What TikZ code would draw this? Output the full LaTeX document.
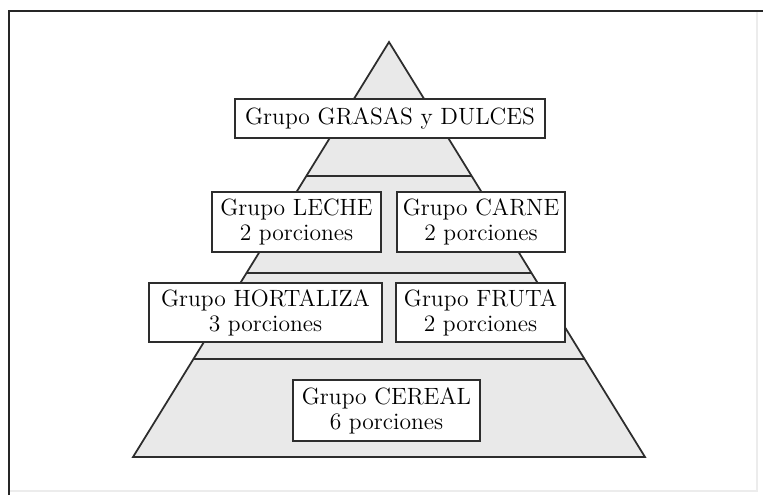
\documentclass[tikz,border=0pt]{standalone}
\usetikzlibrary{calc}

\definecolor{pyrgray}{RGB}{233,233,233}
\definecolor{edgegray}{RGB}{45,45,45}
\definecolor{faintgray}{RGB}{236,236,236}

\tikzset{
	grupo/.style={rectangle, draw=edgegray, fill=white, line width=1pt, align=center, inner sep=0pt, font=\fontsize{13.4}{14.2}\selectfont},
	band/.style={draw=edgegray, line width=1pt},
}

\begin{document}
\begin{tikzpicture}[x=0.02cm, y=-0.02cm]
			\useasboundingbox (0,0) rectangle (763,495);

			% frame
			\draw[faintgray, line width=1pt] (757,11) -- (757,491) -- (9,491);
			\draw[black!85, line width=1.6pt] (9,495) -- (9,11) -- (763,11);

			% pyramid
			\coordinate (apex) at (389,42);
			\coordinate (baseL) at (133,457);
			\coordinate (baseR) at (645,457);
			\draw[band, fill=pyrgray] (apex) -- (baseR) -- (baseL) -- cycle;

			\draw[band] ($(apex)!0.3229!(baseL)$) -- ($(apex)!0.3229!(baseR)$);
			\draw[band] ($(apex)!0.5566!(baseL)$) -- ($(apex)!0.5566!(baseR)$);
			\draw[band] ($(apex)!0.7639!(baseL)$) -- ($(apex)!0.7639!(baseR)$);

			\node[grupo, minimum width=6.2cm, minimum height=0.78cm] (grasas) at (390,118.5) {Grupo GRASAS y DULCES};

			\node[grupo, minimum width=3.38cm, minimum height=1.2cm] (leche) at (296.5,222) {Grupo LECHE\\2 porciones};
			\node[grupo, minimum width=3.36cm, minimum height=1.2cm] (carne) at (481,222) {Grupo CARNE\\2 porciones};

			\node[grupo, minimum width=4.66cm, minimum height=1.18cm] (hortaliza) at (265.5,312.5) {Grupo HORTALIZA\\3 porciones};
			\node[grupo, minimum width=3.38cm, minimum height=1.18cm] (fruta) at (480.5,312.5) {Grupo FRUTA\\2 porciones};

			\node[grupo, minimum width=3.74cm, minimum height=1.22cm] (cereal) at (386.5,410.5) {Grupo CEREAL\\6 porciones};

		\end{tikzpicture}
\end{document}
